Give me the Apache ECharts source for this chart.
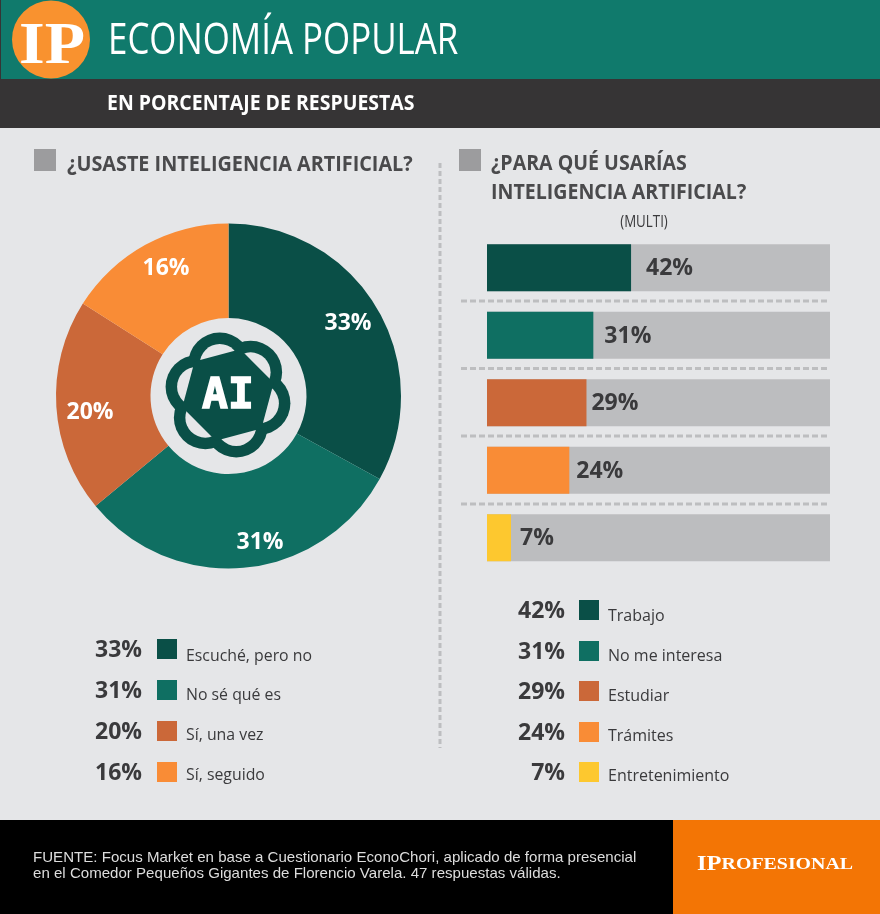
<!DOCTYPE html>
<html>
<head>
<meta charset="utf-8">
<style>html,body{margin:0;padding:0;background:#e5e6e8}#c{width:880px;height:914px}</style>
<script src="https://cdn.jsdelivr.net/npm/echarts@6/dist/echarts.min.js"></script>
</head>
<body>
<div id="c"></div>
<script>
// ---- data ----
const usoCategories = ['Escuché, pero no', 'No sé qué es', 'Sí, una vez', 'Sí, seguido'];
const usoValues = [33, 31, 20, 16];
const paraCategories = ['Trabajo', 'No me interesa', 'Estudiar', 'Trámites', 'Entretenimiento'];
const paraValues = [42, 31, 29, 24, 7];

// ---- style ----
const DARK = '#0a4f47', TEAL = '#0f6f62', TERRA = '#cb6839', ORANGE = '#f98c36', YELLOW = '#fdc82f', BG = '#e5e6e8';
const usoColors = [DARK, TEAL, TERRA, ORANGE];
const paraColors = [DARK, TEAL, TERRA, ORANGE, YELLOW];
const pieLabelPos = [[348, 323.5], [260, 542.5], [90, 412.5], [166, 268.5]];
const barLabelGap = [15, 11, 5, 7, 9];
const INK = '#3a3a3c', HEAD = '#4a4a4c', FONT = 'Open Sans';

function txt(x, y, text, size, weight, fill, align, sx, family, z) {
  return { type: 'text', x, y, scaleX: sx || 1, z: z || 50, silent: true,
    style: { text, fontSize: size, fontWeight: weight, fontFamily: family || FONT, fill,
      textAlign: align || 'left', textVerticalAlign: 'middle' } };
}
function rect(x, y, w, h, fill, z) {
  return { type: 'rect', shape: { x, y, width: w, height: h }, style: { fill }, z: z || 1, silent: true };
}
function dash(x1, y1, x2, y2, dashArr) {
  return { type: 'line', shape: { x1, y1, x2, y2 }, z: 1, silent: true,
    style: { stroke: '#bdbec0', lineWidth: 3, lineDash: dashArr } };
}

const g = [];
// header
g.push(rect(0, 0, 880, 79, '#107a6c'));
g.push(rect(0, 79, 880, 49, '#363435'));
g.push(rect(0, 0, 1, 128, '#363435', 2));
g.push({ type: 'circle', shape: { cx: 51, cy: 39.5, r: 39 }, style: { fill: '#f9922f' }, z: 5, silent: true });
g.push(txt(52, 47, 'IP', 60, 'bold', '#ffffff', 'center', 1.1, 'Liberation Serif', 6));
g.push(txt(108, 42, 'ECONOMÍA POPULAR', 43, 'normal', '#ffffff', 'left', 0.811));
g.push(txt(107, 104, 'EN PORCENTAJE DE RESPUESTAS', 22, 'bold', '#ffffff', 'left', 0.885));

// section heads
g.push(rect(34, 149, 22, 22, '#9c9c9e'));
g.push(rect(459, 149, 22, 22, '#9c9c9e'));
g.push(txt(67, 165, '¿USASTE INTELIGENCIA ARTIFICIAL?', 22, 'bold', HEAD, 'left', 0.9));
g.push(txt(491, 164, '¿PARA QUÉ USARÍAS', 22, 'bold', HEAD, 'left', 0.89));
g.push(txt(491, 193, 'INTELIGENCIA ARTIFICIAL?', 22, 'bold', HEAD, 'left', 0.89));
g.push(txt(644, 222.5, '(MULTI)', 15.5, 'normal', INK, 'center', 0.86));

// separators
g.push(dash(440, 163, 440, 748, [5, 3]));
[301, 368.5, 436, 504].forEach(y => g.push(dash(461, y, 828, y, [6, 3])));

// AI emblem: six lobes around a dark hexagon
const cx = 228, cy = 395;
const lobeAngles = [-15, 45, 105, 165, 225, 285].map(d => d * Math.PI / 180);
lobeAngles.forEach(a => g.push({ type: 'circle', z: 20, silent: true,
  shape: { cx: cx + 32 * Math.sin(a), cy: cy - 32 * Math.cos(a), r: 31.5 }, style: { fill: DARK } }));
lobeAngles.forEach(a => g.push({ type: 'circle', z: 21, silent: true,
  shape: { cx: cx + 32 * Math.sin(a), cy: cy - 32 * Math.cos(a), r: 20 }, style: { fill: BG } }));
g.push({ type: 'polygon', z: 22, silent: true,
  shape: { points: lobeAngles.map(a => {
    const b = a + Math.PI / 6;
    return [cx + 47.3 * Math.sin(b), cy - 47.3 * Math.cos(b)];
  }) },
  style: { fill: DARK } });
const aiMark = txt(cx, cy + 1.5, 'AI', 43, 'bold', '#ffffff', 'center', 1, 'DejaVu Sans Mono', 25);
aiMark.style.stroke = '#ffffff';
aiMark.style.lineWidth = 1.5;
g.push(aiMark);

// legends
const leftY = [650, 691, 732, 773], leftLabelY = [656.5, 695.5, 735.5, 775.5];
usoCategories.forEach((c, i) => {
  g.push(txt(142, leftY[i], usoValues[i] + '%', 23, 'bold', INK, 'right'));
  g.push(rect(157, leftY[i] - 11, 20, 20, usoColors[i]));
  g.push(txt(186, leftLabelY[i], c, 16, 'normal', INK, 'left', 0.99));
});
const rightY = [611, 652, 692, 733, 773], rightLabelY = [616.5, 656.5, 696.5, 736.5, 776.5];
paraCategories.forEach((c, i) => {
  g.push(txt(565, rightY[i], paraValues[i] + '%', 23, 'bold', INK, 'right'));
  g.push(rect(579, rightY[i] - 11, 20, 20, paraColors[i]));
  g.push(txt(608, rightLabelY[i], c, 16, 'normal', INK, 'left', 1.0));
});

// footer
g.push(rect(0, 820, 673, 94, '#000000'));
g.push(rect(673, 820, 207, 94, '#f37505'));
g.push(txt(33, 858, 'FUENTE: Focus Market en base a Cuestionario EconoChori, aplicado de forma presencial', 15, 'normal', '#dddddd', 'left', 1.005, 'Liberation Sans'));
g.push(txt(33, 874, 'en el Comedor Pequeños Gigantes de Florencio Varela. 47 respuestas válidas.', 15, 'normal', '#dddddd', 'left', 1.005, 'Liberation Sans'));
g.push({ type: 'text', x: 697, y: 865, scaleX: 1.17, z: 50, silent: true, style: {
  text: '{a|IP}{b|ROFESIONAL}', fill: '#ffffff', textVerticalAlign: 'middle', fontFamily: 'Liberation Serif',
  rich: { a: { fontSize: 21, fontWeight: 'bold', fontFamily: 'Liberation Serif', fill: '#fff' },
          b: { fontSize: 17, fontWeight: 'bold', fontFamily: 'Liberation Serif', fill: '#fff' } } } });

const chart = echarts.init(document.getElementById('c'), null, { renderer: 'canvas' });
chart.setOption({
  animation: false,
  backgroundColor: BG,
  graphic: { elements: g },
  grid: { left: 487, top: 234, width: 343, height: 337.5 },
  xAxis: { type: 'value', min: 0, max: 100, show: false },
  yAxis: { type: 'category', inverse: true, data: paraCategories, show: false },
  series: [
    { type: 'pie', center: [228.5, 396], radius: [78, 172.5], startAngle: 90, clockwise: true,
      silent: true, itemStyle: { borderWidth: 0 },
      data: usoCategories.map((name, i) => ({ name, value: usoValues[i], itemStyle: { color: usoColors[i] } })),
      label: { position: 'inside', formatter: p => p.value + '%', color: '#fff', fontSize: 23, fontWeight: 'bold', fontFamily: FONT },
      labelLine: { show: false },
      labelLayout: p => ({ x: pieLabelPos[p.dataIndex][0], y: pieLabelPos[p.dataIndex][1], align: 'center', verticalAlign: 'middle' })
    },
    { type: 'bar', barWidth: 47, silent: true,
      showBackground: true, backgroundStyle: { color: '#bcbdbf' },
      data: paraValues.map((value, i) => ({ value, itemStyle: { color: paraColors[i] },
        label: { distance: barLabelGap[i] } })),
      label: { show: true, position: 'right', offset: [0, 1], formatter: p => p.value + '%', color: INK, fontSize: 23, fontWeight: 'bold', fontFamily: FONT }
    }
  ]
});
</script>
</body>
</html>
